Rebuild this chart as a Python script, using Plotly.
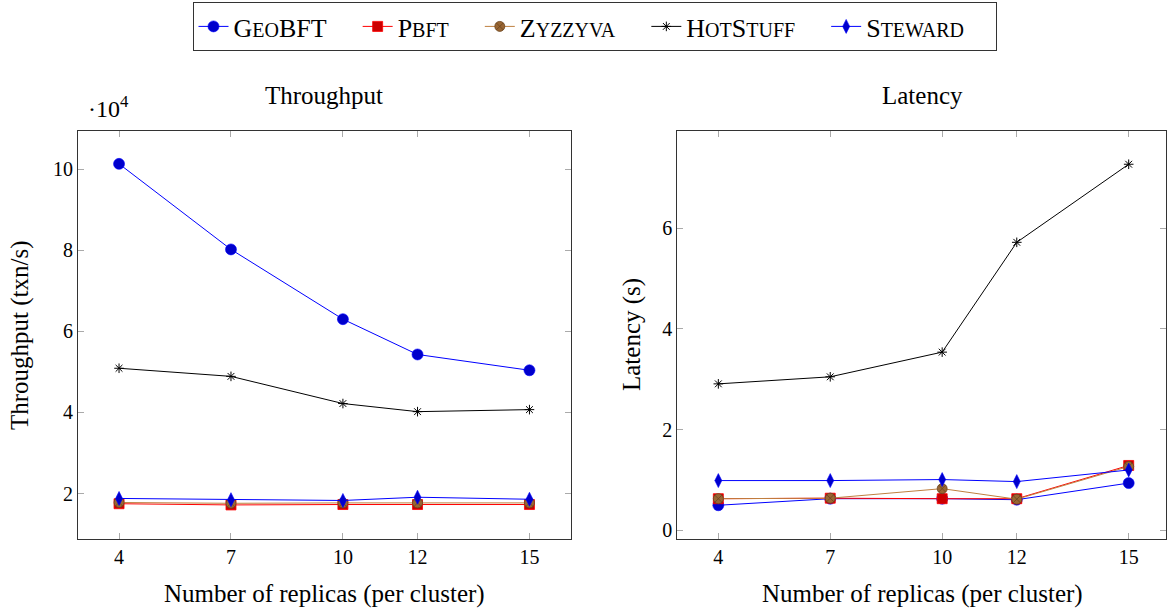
import plotly.graph_objects as go

replicas = [4, 7, 10, 12, 15]
x_ticks = [4, 7, 10, 12, 15]

# Throughput (txn/s)
tp_geobft = [101300, 80200, 63000, 54300, 50400]
tp_pbft = [17500, 17200, 17300, 17300, 17300]
tp_zyzzyva = [17800, 17600, 17700, 17700, 17700]
tp_hotstuff = [50900, 48900, 42200, 40200, 40700]
tp_steward = [18800, 18500, 18300, 19100, 18600]
tp_tickvals = [20000, 40000, 60000, 80000, 100000]
tp_ticktext = ["2", "4", "6", "8", "10"]

# Latency (s)
lat_geobft = [0.50, 0.63, 0.63, 0.61, 0.94]
lat_pbft = [0.63, 0.64, 0.63, 0.63, 1.29]
lat_zyzzyva = [0.63, 0.64, 0.83, 0.62, 1.27]
lat_hotstuff = [2.91, 3.05, 3.54, 5.72, 7.27]
lat_steward = [0.99, 0.99, 1.01, 0.97, 1.20]
lat_tickvals = [0, 2, 4, 6]

BIG = 26
SMALL = 20
PAD = "\u00a0" * 4
def sc(parts):
    out = ""
    for txt, big in parts:
        out += "<span style='font-size:%dpx'>%s</span>" % (BIG if big else SMALL, txt)
    return out + PAD

names = [
    sc([("G", True), ("EO", False), ("BFT", True)]),
    sc([("P", True), ("BFT", False)]),
    sc([("Z", True), ("YZZYVA", False)]),
    sc([("H", True), ("OT", False), ("S", True), ("TUFF", False)]),
    sc([("S", True), ("TEWARD", False)]),
]

styles = [
    dict(line=dict(color="#0000ff", width=1),
         marker=dict(symbol="circle", size=11, color="#0000cc", line=dict(color="#0000ff", width=0.6))),
    dict(line=dict(color="#ff0000", width=1),
         marker=dict(symbol="square", size=10, color="#cc0000", line=dict(color="#ff0000", width=0.8))),
    dict(line=dict(color="#bf8040", width=1),
         marker=dict(symbol="circle-x", size=10, color="#996633", line=dict(color="#6b4520", width=0.8))),
    dict(line=dict(color="#000000", width=1),
         marker=dict(symbol="asterisk-open", size=8, color="#000000", line=dict(color="#000000", width=1))),
    dict(line=dict(color="#0000ff", width=1),
         marker=dict(symbol="diamond-tall", size=10, color="#0000cc", line=dict(color="#0000ff", width=0.6))),
]

tp_series = [tp_geobft, tp_pbft, tp_zyzzyva, tp_hotstuff, tp_steward]
lat_series = [lat_geobft, lat_pbft, lat_zyzzyva, lat_hotstuff, lat_steward]

fig = go.Figure()
for i in range(5):
    fig.add_trace(go.Scatter(x=replicas, y=tp_series[i], mode="lines+markers", name=names[i],
                             xaxis="x", yaxis="y", showlegend=True, **styles[i]))
for i in range(5):
    fig.add_trace(go.Scatter(x=replicas, y=lat_series[i], mode="lines+markers", name=names[i],
                             xaxis="x2", yaxis="y2", showlegend=False, **styles[i]))

FONT = "Liberation Serif"
axis_common = dict(showline=True, linecolor="#333333", linewidth=1, mirror="allticks",
                   ticks="inside", ticklen=6, tickcolor="#aaaaaa", tickwidth=1,
                   showgrid=False, zeroline=False,
                   tickfont=dict(family=FONT, size=20, color="black"))

TOP, BOT, LEFT, RIGHT = 131, 70, 78, 1
PW = 1167 - LEFT - RIGHT
PH = 609 - TOP - BOT

def px_x(p):
    return (p - LEFT) / float(PW)
def px_y(p):
    return (609 - BOT - p) / float(PH)

fig.update_layout(
    width=1167, height=609,
    margin=dict(l=LEFT, r=RIGHT, t=TOP, b=BOT),
    plot_bgcolor="white", paper_bgcolor="white",
    font=dict(family=FONT, size=20, color="black"),
    xaxis=dict(domain=[0, px_x(570.5)], range=[2.9, 16.1], tickvals=x_ticks, anchor="y", **axis_common),
    yaxis=dict(domain=[0, 1], range=[8800, 109400], tickvals=tp_tickvals, ticktext=tp_ticktext,
               anchor="x", **axis_common),
    xaxis2=dict(domain=[px_x(677.3), 1], range=[2.9, 16.0], tickvals=x_ticks, anchor="y2", **axis_common),
    yaxis2=dict(domain=[0, 1], range=[-0.17, 7.93], tickvals=lat_tickvals, anchor="x2", **axis_common),
    legend=dict(orientation="h", x=594.5 / 1167, xanchor="center", y=1 - 2.0 / 609, yanchor="top",
                yref="container", xref="container",
                bordercolor="#333333", borderwidth=1, bgcolor="white",
                font=dict(family=FONT, size=BIG, color="black"),
                tracegroupgap=0, indentation=0),
)

anns = [
    dict(text="Throughput", x=px_x(324), y=px_y(95), size=25),
    dict(text="Latency", x=px_x(922), y=px_y(95), size=25),
    dict(text="Number of replicas (per cluster)", x=px_x(324), y=px_y(594), size=25),
    dict(text="Number of replicas (per cluster)", x=px_x(922), y=px_y(594), size=25),
    dict(text="Throughput (txn/s)", x=px_x(20), y=px_y(335), textangle=-90, size=25),
    dict(text="Latency (s)", x=px_x(632), y=px_y(335), textangle=-90, size=25),
    dict(text="\u00b710<sup>4</sup>", x=px_x(86), y=px_y(107), xanchor="left", size=24),
]
out = []
for a in anns:
    size = a.pop("size")
    d = dict(xref="paper", yref="paper", showarrow=False, xanchor="center", yanchor="middle",
             font=dict(family=FONT, size=size, color="black"))
    d.update(a)
    out.append(d)
fig.update_layout(annotations=out)

fig.write_html("out.html")
